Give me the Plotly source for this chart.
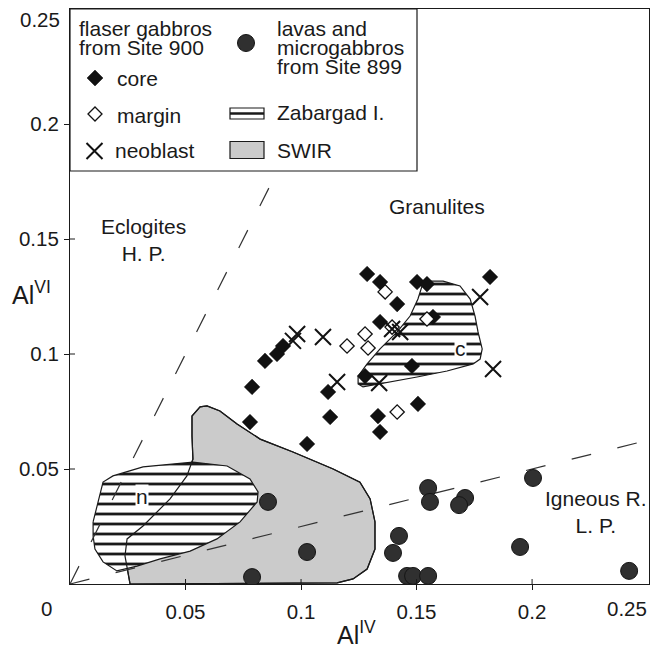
import plotly.graph_objects as go

# ---------------- data ----------------
CORE_X = [0.1286, 0.1342, 0.1416, 0.1502, 0.1545, 0.1818, 0.1571, 0.1342, 0.1480, 0.1277,
          0.1117, 0.1126, 0.1333, 0.1342, 0.1506, 0.0788, 0.0779, 0.1026, 0.0844, 0.0896, 0.0922]
CORE_Y = [0.1348, 0.1313, 0.1217, 0.1313, 0.1304, 0.1335, 0.1161, 0.1139, 0.0948, 0.0904,
          0.0835, 0.0726, 0.0730, 0.0661, 0.0783, 0.0857, 0.0704, 0.0609, 0.0970, 0.1000, 0.1035]

MARGIN_X = [0.1199, 0.1277, 0.1290, 0.1394, 0.1545, 0.1416, 0.1364]
MARGIN_Y = [0.1035, 0.1087, 0.1026, 0.1117, 0.1152, 0.0748, 0.1270]

NEO_X = [0.0965, 0.0983, 0.1095, 0.1156, 0.1394, 0.1429, 0.1338, 0.1775, 0.1831]
NEO_Y = [0.1057, 0.1087, 0.1074, 0.0878, 0.1109, 0.1096, 0.0874, 0.1248, 0.0935]

LAVA_X = [0.0857, 0.1026, 0.0788, 0.1550, 0.1558, 0.1710, 0.1684, 0.1424, 0.1398,
          0.1459, 0.1485, 0.1550, 0.2004, 0.1948, 0.2420]
LAVA_Y = [0.0357, 0.0139, 0.0030, 0.0417, 0.0357, 0.0374, 0.0343, 0.0209, 0.0135,
          0.0035, 0.0035, 0.0035, 0.0461, 0.0161, 0.0057]

SWIR_X = [0.0260, 0.0238, 0.0247, 0.0316, 0.0433, 0.0506, 0.0532, 0.0528, 0.0528, 0.0563,
          0.0593, 0.0649, 0.0723, 0.0823, 0.0965, 0.1139, 0.1255, 0.1299, 0.1320, 0.1320,
          0.1286, 0.1225, 0.1156, 0.0260]
SWIR_Y = [0.0000, 0.0122, 0.0196, 0.0252, 0.0370, 0.0470, 0.0543, 0.0643, 0.0730, 0.0770,
          0.0774, 0.0752, 0.0696, 0.0630, 0.0574, 0.0500, 0.0443, 0.0370, 0.0270, 0.0152,
          0.0065, 0.0022, 0.0005, 0.0000]

ZAB_N_X = [0.0100, 0.0143, 0.0186, 0.0316, 0.0532, 0.0680, 0.0779, 0.0814, 0.0810, 0.0736,
           0.0636, 0.0520, 0.0390, 0.0290, 0.0203, 0.0143, 0.0108, 0.0100, 0.0100]
ZAB_N_Y = [0.0270, 0.0443, 0.0470, 0.0509, 0.0530, 0.0513, 0.0457, 0.0400, 0.0357, 0.0270,
           0.0196, 0.0143, 0.0109, 0.0078, 0.0057, 0.0096, 0.0152, 0.0209, 0.0270]

ZAB_C_X = [0.1545, 0.1615, 0.1688, 0.1732, 0.1753, 0.1766, 0.1784, 0.1775, 0.1745, 0.1632,
           0.1502, 0.1385, 0.1268, 0.1247, 0.1247, 0.1286, 0.1342, 0.1416, 0.1472, 0.1506,
           0.1524, 0.1545]
ZAB_C_Y = [0.1317, 0.1317, 0.1296, 0.1239, 0.1165, 0.1096, 0.1022, 0.0978, 0.0957, 0.0926,
           0.0900, 0.0878, 0.0857, 0.0870, 0.0904, 0.0957, 0.1022, 0.1096, 0.1165, 0.1239,
           0.1296, 0.1317]

BOUNDARY_SLOPES = [2.0, 0.25]          # dashed field boundaries through the origin

FIELD_LABELS = ["Eclogites<br>H. P.", "Granulites", "Igneous R.<br>L. P."]
FIELD_X = [0.032, 0.159, 0.2275]
FIELD_Y = [0.1495, 0.1640, 0.0315]

X_TICKS = [0.05, 0.10, 0.15, 0.20]
X_TICKTEXT = ["0.05", "0.1", "0.15", "0.2"]
Y_TICKS = [0.05, 0.10, 0.15, 0.20]
Y_TICKTEXT = ["0.05", "0.1", "0.15", "0.2"]

X_MAX = 0.2506
Y_MAX = 0.25

# ---------------- layout constants ----------------
W, H = 662, 650
PAGE = 8                      # default body margin of the html page
SL, ST = 70, 9                # plot area left/top on screen
PW, PH = 579, 575
ML, MT = SL - PAGE, ST - PAGE
MR, MB = W - ML - PW, H - MT - PH
FONT = "Arial, Liberation Sans, Helvetica, sans-serif"
INK = "#1a1a1a"
TXT = 21
TICK = 20.5


def px(xp):
    return (xp - SL) / PW


def py(yp):
    return (ST + PH - yp) / PH


fig = go.Figure()

# SWIR field
fig.add_trace(go.Scatter(x=SWIR_X, y=SWIR_Y, mode="lines", fill="toself",
                         fillcolor="#cbcbcb", line=dict(color=INK, width=1.2),
                         hoverinfo="skip", showlegend=False))
# Zabargad fields (hatched)
for zx, zy in [(ZAB_N_X, ZAB_N_Y), (ZAB_C_X, ZAB_C_Y)]:
    fig.add_trace(go.Scatter(x=zx, y=zy, mode="lines", fill="toself",
                             fillcolor="white",
                             fillpattern=dict(shape="-", size=10, solidity=0.28,
                                              fgcolor=INK, bgcolor="white", fillmode="replace"),
                             line=dict(color=INK, width=1.2),
                             hoverinfo="skip", showlegend=False))
# SWIR outline visible through the hatched field
fig.add_trace(go.Scatter(x=SWIR_X, y=SWIR_Y, mode="lines",
                         line=dict(color=INK, width=1.2),
                         hoverinfo="skip", showlegend=False))

# dashed boundaries
for s in BOUNDARY_SLOPES:
    xe = min(X_MAX, Y_MAX / s)
    fig.add_trace(go.Scatter(x=[0, xe], y=[0, s * xe], mode="lines",
                             line=dict(color="#333333", width=1.2, dash="20px,27px"),
                             hoverinfo="skip", showlegend=False))

# data points
fig.add_trace(go.Scatter(x=LAVA_X, y=LAVA_Y, mode="markers", name="lavas",
                         marker=dict(symbol="circle", size=17, color="#303030",
                                     line=dict(color="#151515", width=1)),
                         showlegend=False))
fig.add_trace(go.Scatter(x=CORE_X, y=CORE_Y, mode="markers", name="core",
                         marker=dict(symbol="diamond", size=12, color="#111111",
                                     line=dict(color="#111111", width=0.5)),
                         showlegend=False))
fig.add_trace(go.Scatter(x=MARGIN_X, y=MARGIN_Y, mode="markers", name="margin",
                         marker=dict(symbol="diamond", size=11, color="white",
                                     line=dict(color="#111111", width=1.3)),
                         showlegend=False))
fig.add_trace(go.Scatter(x=NEO_X, y=NEO_Y, mode="markers", name="neoblast",
                         marker=dict(symbol="x-thin", size=16,
                                     line=dict(color="#111111", width=2)),
                         showlegend=False))

shapes = []
annotations = []

# inner halves of the crossing ticks
for t in X_TICKS:
    shapes.append(dict(type="line", xref="x", yref="y domain", x0=t, x1=t, y0=0, y1=5 / PH,
                       line=dict(color=INK, width=1), layer="above"))
for t in Y_TICKS:
    shapes.append(dict(type="line", xref="x domain", yref="y", x0=0, x1=5 / PW, y0=t, y1=t,
                       line=dict(color=INK, width=1), layer="above"))

# legend box
shapes.append(dict(type="rect", xref="paper", yref="paper", x0=0, x1=px(417), y0=py(171), y1=1,
                   fillcolor="white", line=dict(color=INK, width=1.2), layer="above"))

# legend keys (pixel-sized shapes)
def key_shape(cx, cy, **kw):
    d = dict(xref="paper", yref="paper", xsizemode="pixel", ysizemode="pixel",
             xanchor=px(cx), yanchor=py(cy), layer="above")
    d.update(kw)
    return d

shapes.append(key_shape(95, 78, type="path", path="M-8,0L0,8L8,0L0,-8Z",
                        fillcolor="#111111", line=dict(color="#111111", width=0.5)))
shapes.append(key_shape(95, 114, type="path", path="M-7,0L0,7L7,0L0,-7Z",
                        fillcolor="white", line=dict(color="#111111", width=1.3)))
shapes.append(key_shape(94.5, 151, type="path", path="M-8,-8L8,8M-8,8L8,-8",
                        line=dict(color="#111111", width=2)))
shapes.append(key_shape(246, 43, type="circle", x0=-8.5, x1=8.5, y0=-8.5, y1=8.5,
                        fillcolor="#303030", line=dict(color="#151515", width=1)))
shapes.append(key_shape(247, 113.5, type="rect", x0=-17, x1=17, y0=-5.5, y1=5.5,
                        fillcolor="white", line=dict(color=INK, width=1.2)))
shapes.append(key_shape(247, 113.5, type="line", x0=-17, x1=17, y0=0, y1=0,
                        line=dict(color=INK, width=2.5)))
shapes.append(key_shape(247, 150, type="rect", x0=-17, x1=17, y0=-8.5, y1=8.5,
                        fillcolor="#cbcbcb", line=dict(color=INK, width=1.2)))


def screen_text(text, x, y, size=TXT, xanchor="center"):
    annotations.append(dict(text=text, xref="paper", yref="paper", x=px(x), y=py(y),
                            xanchor=xanchor, yanchor="middle", showarrow=False,
                            font=dict(family=FONT, size=size, color=INK)))


screen_text("flaser gabbros", 77, 28, xanchor="left")
screen_text("from Site 900", 77, 48, xanchor="left")
screen_text("core", 115, 79, xanchor="left")
screen_text("margin", 115, 115, xanchor="left")
screen_text("neoblast", 113, 151, xanchor="left")
screen_text("lavas and", 275, 28, xanchor="left")
screen_text("microgabbros", 275, 47, xanchor="left")
screen_text("from Site 899", 275, 66, xanchor="left")
screen_text("Zabargad I.", 275, 112, xanchor="left")
screen_text("SWIR", 275, 150, xanchor="left")

# field labels
for t, x, y in zip(FIELD_LABELS, FIELD_X, FIELD_Y):
    annotations.append(dict(text=t, x=x, y=y, xref="x", yref="y", showarrow=False,
                            xanchor="center", yanchor="middle",
                            font=dict(family=FONT, size=TXT, color=INK), align="center"))

# n / c labels inside hatched fields
annotations.append(dict(text="n", x=0.031, y=0.038, showarrow=False, bgcolor="white",
                        xanchor="center", yanchor="middle", borderpad=0,
                        font=dict(family=FONT, size=TXT, color=INK)))
annotations.append(dict(text="c", x=0.1688, y=0.1025, showarrow=False, bgcolor="white",
                        xanchor="center", yanchor="middle", borderpad=0,
                        font=dict(family=FONT, size=TXT, color=INK)))

# extra tick labels placed as in the original
screen_text("0.25", 40, 19, size=TICK)
screen_text("0.25", 627, 608, size=TICK)
screen_text("0", 46, 608, size=TICK)

# axis titles
screen_text("Al<sup>VI</sup>", 32, 293, size=25)
screen_text("Al<sup>IV</sup>", 356, 633, size=25)

axis_common = dict(showgrid=False, zeroline=False, showline=True, linecolor=INK, linewidth=1.2,
                   mirror=True, ticks="outside", ticklen=5, tickcolor=INK, tickwidth=1,
                   tickfont=dict(family=FONT, size=TICK, color=INK), fixedrange=True)

fig.update_layout(
    width=W, height=H,
    margin=dict(l=ML, r=MR, t=MT, b=MB),
    paper_bgcolor="white", plot_bgcolor="white",
    showlegend=False,
    xaxis=dict(range=[0, X_MAX], tickmode="array", tickvals=X_TICKS, ticktext=X_TICKTEXT,
               ticklabelstandoff=4, **axis_common),
    yaxis=dict(range=[0, Y_MAX], tickmode="array", tickvals=Y_TICKS, ticktext=Y_TICKTEXT,
               ticklabelstandoff=1, **axis_common),
    shapes=shapes,
    annotations=annotations,
)

fig.write_html("out.html")
